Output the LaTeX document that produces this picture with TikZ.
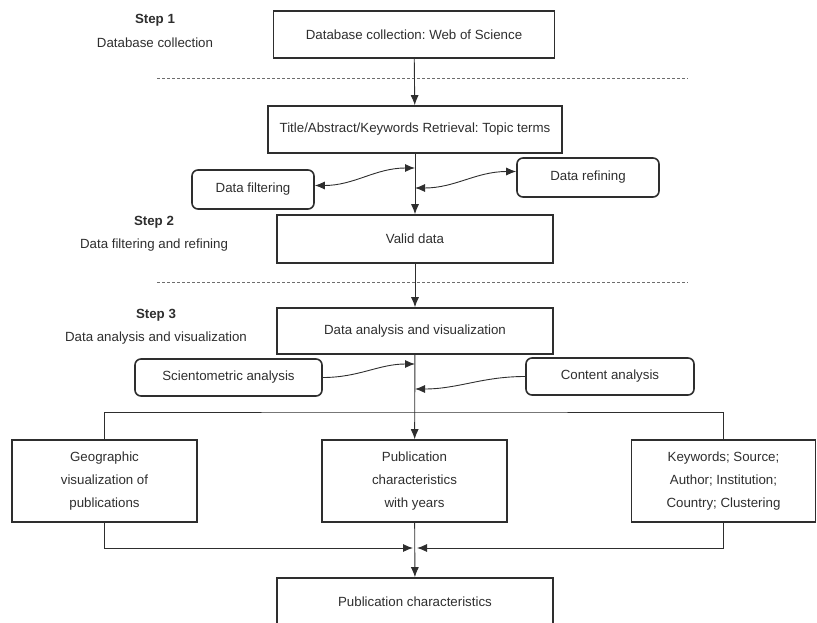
\documentclass[tikz,border=0pt]{standalone}
\usepackage{fontspec}
\setmainfont{Liberation Sans}
\usetikzlibrary{arrows.meta}
\definecolor{ink}{HTML}{2E2E2E}
\frenchspacing
\begin{document}
\begin{tikzpicture}[x=1pt,y=-1pt,
  font=\fontsize{13.3}{23}\selectfont, text=ink,
  >={Latex[length=10pt,width=8pt]},
  box/.style={draw=ink,line width=1.6pt,inner sep=0pt,align=center},
  soft/.style={box,rounded corners=6pt},
  link/.style={draw=ink,line width=0.9pt},
  sep/.style={draw=ink!70,line width=0.7pt,dash pattern=on 3pt off 2pt},
  steptitle/.style={font=\fontsize{13.3}{16}\selectfont\bfseries}]
\useasboundingbox (0,0) rectangle (817,623);
% step labels
\node[steptitle](s1) at (155,20) {Step 1};
\node(s1t) at (155,43) {Database collection};
\node[steptitle](s2) at (154,222) {Step 2};
\node(s2t) at (154,245) {Data filtering and refining};
\node[steptitle](s3) at (156,315) {Step 3};
\node(s3t) at (156,338) {Data analysis and visualization};
% separators
\coordinate (d1a) at (157,78); \coordinate (d1b) at (688,78);
\coordinate (d2a) at (157,282); \coordinate (d2b) at (688,282);
\draw[sep] (d1a)--(d1b);
\draw[sep] (d2a)--(d2b);
% boxes
\node[box,minimum width=281,minimum height=47](db) at (414,34.5) {Database collection: Web of Science};
\node[box,minimum width=294,minimum height=47](ret) at (415,129.5) {Title/Abstract/Keywords Retrieval: Topic terms};
\node[soft,minimum width=122,minimum height=39](filt) at (253,189.5) {Data filtering};
\node[soft,minimum width=142,minimum height=39](refi) at (588,177.5) {Data refining};
\node[box,minimum width=276,minimum height=48](valid) at (415,239) {Valid data};
\node[box,minimum width=276,minimum height=46](ana) at (415,331) {Data analysis and visualization};
\node[soft,minimum width=187,minimum height=37](scien) at (228.5,377.5) {Scientometric analysis};
\node[soft,minimum width=168,minimum height=37](cont) at (610,376.5) {Content analysis};
\node[box,minimum width=185,minimum height=82](geo) at (104.5,481) {Geographic\\visualization of\\publications};
\node[box,minimum width=185,minimum height=82](pub) at (414.5,481) {Publication\\characteristics\\with years};
\node[box,minimum width=184,minimum height=82](kw) at (723.5,481) {Keywords; Source;\\Author; Institution;\\Country; Clustering};
\node[box,minimum width=276,minimum height=48](res) at (415,602) {Publication characteristics};
% connectors
\coordinate (f1) at (415,168);
\coordinate (r1) at (415,188);
\coordinate (sc1) at (415,364);
\coordinate (co1) at (415,389);
\coordinate (split) at (415,412);
\coordinate (join) at (415,548);
\draw[link,->] (db)--(ret);
\draw[link,->] (ret)--(valid);
\draw[link,<->] ([yshift=4pt]filt.east) to[out=0,in=180] (f1);
\draw[link,<->] ([yshift=6pt]refi.west) to[out=180,in=0] (r1);
\draw[link,->] (valid)--(ana);
\draw[link,->] (scien.east) to[out=0,in=180] (sc1);
\draw[link,->] (cont.west) to[out=180,in=0] (co1);
\draw[link,->] (ana)--(pub);
\draw[link] (geo.north) |- (split) -| (kw.north);
\draw[link,->] (geo.south) |- ([xshift=-2pt]join);
\draw[link,->] (kw.south) |- ([xshift=2pt]join);
\draw[link,->] (pub)--(res);
\end{tikzpicture}
\end{document}
